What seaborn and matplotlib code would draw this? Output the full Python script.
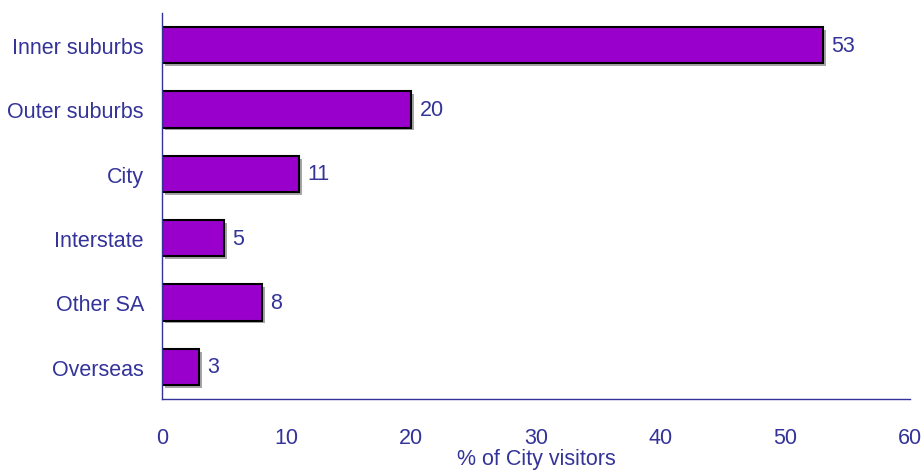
import matplotlib
matplotlib.use("Agg")
import matplotlib.pyplot as plt
import matplotlib.patheffects as pe
from matplotlib.ticker import FixedLocator
import seaborn as sns

categories = ["Inner suburbs", "Outer suburbs", "City", "Interstate", "Other SA", "Overseas"]
values = [53, 20, 11, 5, 8, 3]
x_ticks = [0, 10, 20, 30, 40, 50, 60]

text_col = "#333399"
bar_col = "#9900CC"

sns.set_style("white")
plt.rcParams["font.family"] = ["Liberation Sans", "DejaVu Sans"]
fs = 15.5

fig = plt.figure(figsize=(9.24, 4.77), dpi=100)
ax = fig.add_axes([162 / 924, 1 - 400 / 477, 748 / 924, 386 / 477])

sns.barplot(x=values, y=categories, orient="h", color=bar_col, edgecolor="black",
            linewidth=1.5, width=0.56, saturation=1, ax=ax)
# grey drop shadow like the original
for p in ax.patches:
    p.set_path_effects([pe.SimplePatchShadow(offset=(2, -2), shadow_rgbFace="gray", alpha=0.7),
                        pe.Normal()])

ax.bar_label(ax.containers[0], labels=[str(v) for v in values], padding=6,
             color=text_col, fontsize=fs)

ax.set_xlim(0, 60)
ax.set_ylim(5.5, -0.5)
ax.set_xticks(x_ticks)
ax.set_xticklabels([str(t) for t in x_ticks])
ax.yaxis.set_minor_locator(FixedLocator([i - 0.5 for i in range(7)]))

for s in ["top", "right"]:
    ax.spines[s].set_visible(False)
for s in ["left", "bottom"]:
    ax.spines[s].set_color(text_col)
    ax.spines[s].set_linewidth(1)

ax.tick_params(axis="x", direction="out", length=6, width=1, color=text_col,
               labelcolor=text_col, labelsize=fs, pad=14)
ax.tick_params(axis="y", which="major", length=0, labelcolor=text_col, labelsize=fs, pad=13)
ax.tick_params(axis="y", which="minor", direction="out", length=6, width=1, color=text_col)

ax.set_xlabel("% of City visitors", color=text_col, fontsize=fs, labelpad=0)
ax.set_ylabel("")

fig.savefig("out.png", dpi=100)
